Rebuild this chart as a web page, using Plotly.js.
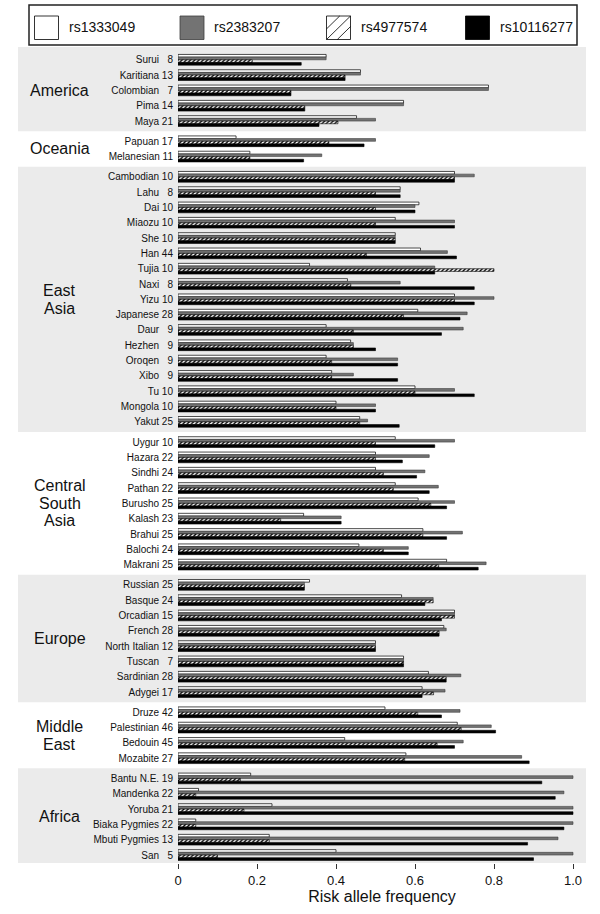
<!DOCTYPE html>
<html>
<head>
<meta charset="utf-8">
<script src="https://cdn.plot.ly/plotly-3.0.1.min.js"></script>
<style>
  html, body { margin: 0; padding: 0; background: #fff; }
  #chart { width: 600px; height: 914px; }
</style>
</head>
<body>
<div id="chart"></div>
<script>
// populations, grouped by region (top to bottom)
const populations = ["Surui", "Karitiana", "Colombian", "Pima", "Maya",
  "Papuan", "Melanesian",
  "Cambodian", "Lahu", "Dai", "Miaozu", "She", "Han", "Tujia", "Naxi", "Yizu",
  "Japanese", "Daur", "Hezhen", "Oroqen", "Xibo", "Tu", "Mongola", "Yakut",
  "Uygur", "Hazara", "Sindhi", "Pathan", "Burusho", "Kalash", "Brahui", "Balochi", "Makrani",
  "Russian", "Basque", "Orcadian", "French", "North Italian", "Tuscan", "Sardinian", "Adygei",
  "Druze", "Palestinian", "Bedouin", "Mozabite",
  "Bantu N.E.", "Mandenka", "Yoruba", "Biaka Pygmies", "Mbuti Pygmies", "San"];

const sampleSizes = [8, 13, 7, 14, 21,
  17, 11,
  10, 8, 10, 10, 10, 44, 10, 8, 10, 28, 9, 9, 9, 9, 10, 10, 25,
  10, 22, 24, 22, 25, 23, 25, 24, 25,
  25, 24, 15, 28, 12, 7, 28, 17,
  42, 46, 45, 27,
  19, 22, 21, 22, 13, 5];

const regions = ["America", "Oceania", "East Asia", "Central South Asia", "Europe", "Middle East", "Africa"];
const regionLines = [["America"], ["Oceania"], ["East", "Asia"], ["Central", "South", "Asia"],
  ["Europe"], ["Middle", "East"], ["Africa"]];
const regionCounts = [5, 2, 17, 9, 8, 4, 6];
const shadedRegions = ["America", "East Asia", "Europe", "Africa"];

const snps = ["rs1333049", "rs2383207", "rs4977574", "rs10116277"];

const rs1333049 = [0.375, 0.462, 0.786, 0.571, 0.452,
  0.147, 0.182,
  0.70, 0.5625, 0.61, 0.55, 0.55, 0.614, 0.333, 0.429, 0.70, 0.607, 0.375, 0.437, 0.375, 0.389, 0.60, 0.40, 0.46,
  0.55, 0.50, 0.50, 0.55, 0.608, 0.318, 0.62, 0.458, 0.68,
  0.333, 0.566, 0.70, 0.673, 0.50, 0.571, 0.634, 0.618,
  0.524, 0.707, 0.422, 0.577,
  0.184, 0.052, 0.238, 0.045, 0.231, 0.40];

const rs2383207 = [0.375, 0.462, 0.786, 0.571, 0.50,
  0.50, 0.364,
  0.75, 0.5625, 0.60, 0.70, 0.55, 0.682, 0.65, 0.5625, 0.80, 0.732, 0.722, 0.444, 0.556, 0.444, 0.70, 0.50, 0.48,
  0.70, 0.636, 0.625, 0.659, 0.70, 0.413, 0.72, 0.583, 0.78,
  0.32, 0.646, 0.70, 0.679, 0.50, 0.571, 0.716, 0.676,
  0.714, 0.793, 0.722, 0.87,
  1.0, 0.977, 1.0, 1.0, 0.962, 1.0];

const rs4977574 = [0.188, 0.423, 0.286, 0.321, 0.405,
  0.382, 0.182,
  0.70, 0.50, 0.50, 0.50, 0.55, 0.477, 0.80, 0.4375, 0.70, 0.571, 0.444, 0.444, 0.389, 0.389, 0.60, 0.40, 0.46,
  0.50, 0.50, 0.52, 0.545, 0.64, 0.26, 0.62, 0.52, 0.66,
  0.32, 0.646, 0.70, 0.661, 0.50, 0.571, 0.679, 0.647,
  0.607, 0.717, 0.656, 0.574,
  0.158, 0.045, 0.167, 0.045, 0.231, 0.10];

const rs10116277 = [0.312, 0.423, 0.286, 0.321, 0.357,
  0.471, 0.318,
  0.70, 0.5625, 0.60, 0.70, 0.55, 0.705, 0.65, 0.75, 0.75, 0.714, 0.667, 0.50, 0.556, 0.556, 0.75, 0.50, 0.56,
  0.65, 0.568, 0.604, 0.636, 0.68, 0.413, 0.68, 0.583, 0.76,
  0.32, 0.625, 0.667, 0.661, 0.50, 0.571, 0.679, 0.618,
  0.667, 0.804, 0.70, 0.889,
  0.921, 0.955, 1.0, 0.977, 0.885, 0.90];

const xTicks = [0, 0.2, 0.4, 0.6, 0.8, 1.0];
const xTickText = ["0", "0.2", "0.4", "0.6", "0.8", "1.0"];

// row positions: one unit per population, extra gap between regions
const REGION_GAP = 0.32;
const yPos = [];
const regionFirst = [], regionLast = [];
let idx = 0;
regionCounts.forEach((n, r) => {
  for (let k = 0; k < n; k++) {
    if (k === 0) regionFirst.push(idx + REGION_GAP * r);
    yPos.push(idx + REGION_GAP * r);
    if (k === n - 1) regionLast.push(idx + REGION_GAP * r);
    idx++;
  }
});
const yTop = -0.835;
const yBottom = yPos[yPos.length - 1] + 0.52;

// "Surui  8" style labels, sample size right aligned
const yLabels = populations.map((p, i) =>
  p + " " + (sampleSizes[i] < 10 ? "\u2007" : "") + sampleSizes[i]);

const FONT = "Liberation Sans, Arial, Helvetica, sans-serif";

// plot area in pixels (used to place the legend box and bands)
const M = { l: 178, r: 14, t: 47, b: 51 };
const W = 600 - M.l - M.r, H = 914 - M.t - M.b;
const fx = px => (px - M.l) / W;
const fy = py => (914 - M.b - py) / H;

const traces = [
  { x: rs1333049, marker: { color: "#ffffff", line: { color: "#000", width: 0.7 } } },
  { x: rs2383207, marker: { color: "#737373", line: { color: "#3c3c3c", width: 0.6 } } },
  { x: rs4977574, marker: { color: "#ffffff", line: { color: "#000", width: 0.6 },
      pattern: { shape: "/", fgcolor: "#000", bgcolor: "#fff", size: 3, solidity: 0.45 } } },
  { x: rs10116277, marker: { color: "#000000", line: { color: "#000", width: 0.6 } } }
].map((t, i) => Object.assign(t, {
  type: "bar",
  orientation: "h",
  y: yPos,
  name: snps[i],
  showlegend: false,
  hovertemplate: "%{text}<br>" + snps[i] + ": %{x}<extra></extra>",
  text: populations,
  textposition: "none"
}));

// shaded region bands
const shapes = [];
regions.forEach((r, i) => {
  if (!shadedRegions.includes(r)) return;
  const y0 = i === 0 ? yTop : regionFirst[i] - (1 + REGION_GAP) / 2;
  const y1 = i === regions.length - 1 ? yBottom : regionLast[i] + (1 + REGION_GAP) / 2;
  shapes.push({ type: "rect", layer: "below", xref: "paper", yref: "y",
    x0: fx(18), x1: 1, y0: y0, y1: y1, fillcolor: "#ebebeb", line: { width: 0 } });
});

// legend box drawn by hand so the swatches are large like the original
shapes.push({ type: "rect", xref: "paper", yref: "paper",
  x0: fx(29), x1: fx(577), y0: fy(5), y1: fy(45),
  fillcolor: "rgba(0,0,0,0)", line: { color: "#222", width: 1.5 } });

const swatchX = [34.5, 180, 326.5, 465.5];
const swatchFill = ["#ffffff", "#737373", "#ffffff", "#000000"];
const annotations = [];
snps.forEach((s, i) => {
  const x0 = swatchX[i], x1 = x0 + 24, y0 = 16, y1 = 39.5;
  shapes.push({ type: "rect", xref: "paper", yref: "paper",
    x0: fx(x0), x1: fx(x1), y0: fy(y0), y1: fy(y1),
    fillcolor: swatchFill[i], line: { color: i === 1 ? "#3c3c3c" : "#000", width: 0.8 } });
  if (i === 2) {
    const w = x1 - x0, h = y1 - y0;
    [[x0, y0 + 0.55 * h, x0 + 0.55 * w, y0],
     [x0, y1, x1, y0],
     [x0 + 0.45 * w, y1, x1, y0 + 0.45 * h]].forEach(l => {
      shapes.push({ type: "line", xref: "paper", yref: "paper",
        x0: fx(l[0]), y0: fy(l[1]), x1: fx(l[2]), y1: fy(l[3]),
        line: { color: "#000", width: 0.8 } });
    });
  }
  annotations.push({ xref: "paper", yref: "paper", x: fx(x1 + 8), y: fy(27.5),
    xanchor: "left", yanchor: "middle", showarrow: false, text: s,
    font: { family: FONT, size: 14, color: "#111" } });
});

// region names on the left, one annotation per line (tighter leading)
const LINE_H = 17.5;
regions.forEach((r, i) => {
  const lines = regionLines[i];
  lines.forEach((txt, k) => {
    annotations.push({ xref: "paper", yref: "y", x: fx(60),
      y: (regionFirst[i] + regionLast[i]) / 2,
      yshift: ((lines.length - 1) / 2 - k) * LINE_H,
      xanchor: "center", yanchor: "middle", showarrow: false,
      text: txt,
      font: { family: FONT, size: 16, color: "#111" } });
  });
});

const layout = {
  width: 600,
  height: 914,
  margin: M,
  paper_bgcolor: "#ffffff",
  plot_bgcolor: "rgba(0,0,0,0)",
  barmode: "group",
  bargap: 0.3,
  bargroupgap: 0,
  font: { family: FONT, color: "#111" },
  showlegend: false,
  xaxis: {
    range: [0, W / 395],
    tickvals: xTicks,
    ticktext: xTickText,
    ticks: "outside",
    ticklen: 5,
    tickcolor: "#333",
    showgrid: false,
    zeroline: false,
    showline: false,
    tickfont: { family: FONT, size: 13, color: "#111" },
    title: { text: "Risk allele frequency", standoff: 4,
      font: { family: FONT, size: 16, color: "#111" } }
  },
  yaxis: {
    range: [yBottom, yTop],
    tickvals: yPos,
    ticktext: yLabels,
    ticks: "",
    ticklabelstandoff: 4,
    showgrid: false,
    zeroline: false,
    showline: false,
    tickfont: { family: FONT, size: 10, color: "#111" }
  },
  shapes: shapes,
  annotations: annotations
};

Plotly.newPlot("chart", traces, layout, { displayModeBar: false, staticPlot: true });
</script>
</body>
</html>
